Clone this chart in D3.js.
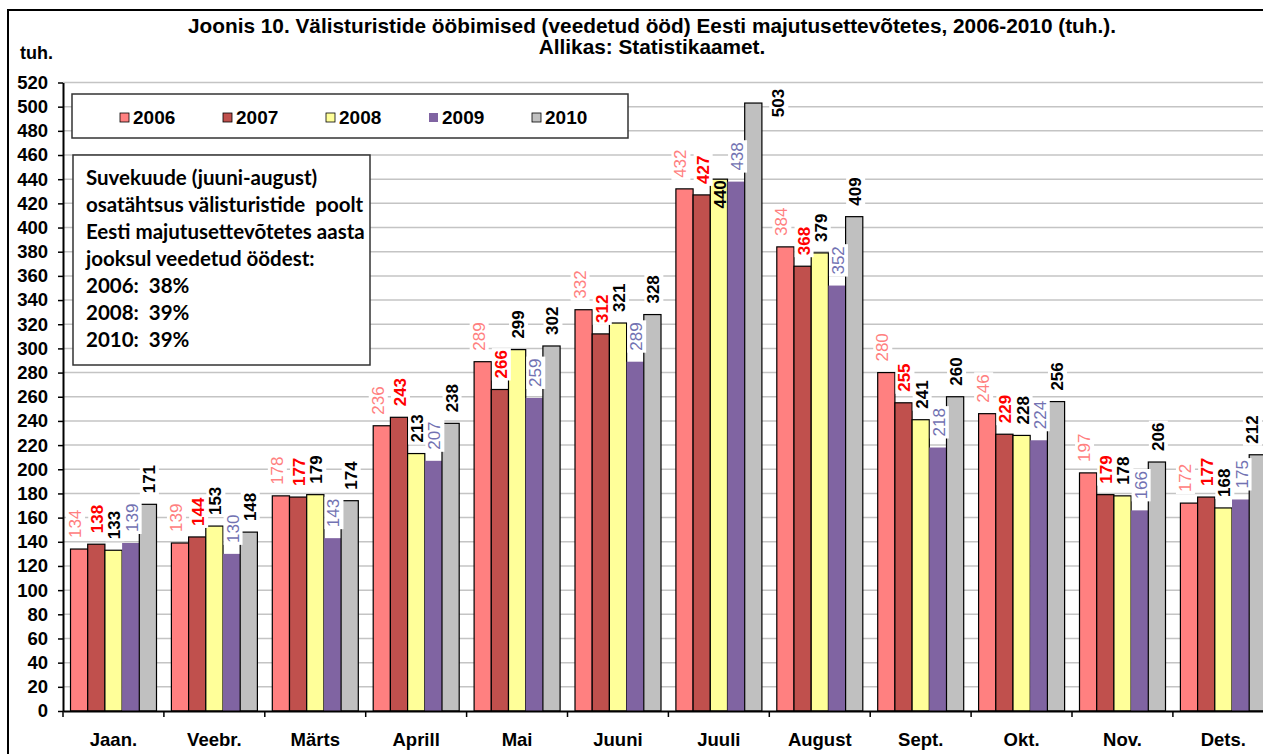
<!DOCTYPE html>
<html>
<head>
<meta charset="utf-8">
<script src="https://cdn.jsdelivr.net/npm/d3@7"></script>
<style>
  body { margin: 0; background: #fff; }
  svg { display: block; font-family: Arial, "Liberation Sans", sans-serif; }
</style>
</head>
<body>
<svg id="chart" width="1263" height="754"></svg>
<script>
// data
var months = ['Jaan.', 'Veebr.', 'Märts', 'Aprill', 'Mai', 'Juuni', 'Juuli', 'August', 'Sept.', 'Okt.', 'Nov.', 'Dets.'];
var years = ['2006', '2007', '2008', '2009', '2010'];
var v2006 = [134, 139, 178, 236, 289, 332, 432, 384, 280, 246, 197, 172];
var v2007 = [138, 144, 177, 243, 266, 312, 427, 368, 255, 229, 179, 177];
var v2008 = [133, 153, 179, 213, 299, 321, 440, 379, 241, 228, 178, 168];
var v2009 = [139, 130, 143, 207, 259, 289, 438, 352, 218, 224, 166, 175];
var v2010 = [171, 148, 174, 238, 302, 328, 503, 409, 260, 256, 206, 212];
var yTicks = [0, 20, 40, 60, 80, 100, 120, 140, 160, 180, 200, 220, 240, 260,
  280, 300, 320, 340, 360, 380, 400, 420, 440, 460, 480, 500, 520];
var noteLines = ['Suvekuude (juuni-august)', 'osatähtsus välisturistide  poolt',
  'Eesti majutusettevõtetes aasta', 'jooksul veedetud öödest:',
  '2006:  38%', '2008:  39%', '2010:  39%'];
var titleLines = ['Joonis 10. Välisturistide ööbimised (veedetud ööd) Eesti majutusettevõtetes, 2006-2010 (tuh.).',
  'Allikas: Statistikaamet.'];

var series = [v2006, v2007, v2008, v2009, v2010];
var fills = ['#ff8080', '#c0504d', '#ffff99', '#8064a2', '#c0c0c0'];
var labelColors = ['#ff8080', '#ff0000', '#000000', '#7272b2', '#000000'];
var labelWeights = ['normal', 'bold', 'bold', 'normal', 'bold'];
var insideLabels = ['Juuli|2008'];

var svg = d3.select('#chart');
var width = 1263;
var left = 63, bandStep = 100.9;
var plotRight = left + months.length * bandStep;

var x = d3.scaleBand().domain(months).range([left, plotRight]);
var xs = d3.scaleBand().domain(years).range([7.5, 93.5]);
var y = d3.scaleLinear().domain([0, 520]).range([711, 82.5]);

// outer frame
svg.append('rect')
  .attr('x', 8).attr('y', 10)
  .attr('width', 1300).attr('height', 800)
  .attr('fill', 'none')
  .attr('stroke', '#000')
  .attr('stroke-width', 2);

// title
svg.selectAll('.title')
  .data(titleLines)
  .enter()
  .append('text')
  .attr('class', 'title')
  .attr('x', 652)
  .attr('y', function(d, i) { return 33 + i * 21; })
  .attr('text-anchor', 'middle')
  .attr('font-size', '20.8px')
  .attr('font-weight', 'bold')
  .text(function(d) { return d; });

svg.append('text')
  .attr('x', 20).attr('y', 59)
  .attr('font-size', '18px')
  .attr('font-weight', 'bold')
  .text('tuh.');

// gridlines
svg.append('g')
  .selectAll('line')
  .data(yTicks.filter(function(d) { return d > 0; }))
  .enter()
  .append('line')
  .attr('x1', left).attr('x2', plotRight)
  .attr('y1', function(d) { return y(d); })
  .attr('y2', function(d) { return y(d); })
  .attr('stroke', '#c4c4c4')
  .attr('stroke-width', 1.5);

var flat = [];
months.forEach(function(m, i) {
  years.forEach(function(yr, j) {
    flat.push({month: m, year: yr, si: j, value: series[j][i]});
  });
});

// bars
svg.append('g')
  .selectAll('rect')
  .data(flat)
  .enter()
  .append('rect')
  .attr('x', function(d) { return x(d.month) + xs(d.year); })
  .attr('y', function(d) { return y(d.value); })
  .attr('width', xs.bandwidth())
  .attr('height', function(d) { return y(0) - y(d.value); })
  .attr('fill', function(d) { return fills[d.si]; })
  .attr('stroke', function(d) { return d.si === 3 ? 'none' : '#000'; })
  .attr('stroke-width', 1.2);

// value labels (rotated, white background)
var labels = svg.append('g');
flat.forEach(function(d) {
  var cx = x(d.month) + xs(d.year) + xs.bandwidth() / 2 + (d.si === 0 ? -4 : 1);
  cx = Math.min(cx, width - 11);
  var top = y(d.value);
  var inside = insideLabels.indexOf(d.month + '|' + d.year) >= 0;
  var g = labels.append('g');
  var t = g.append('text')
    .attr('dy', '0.35em')
    .attr('font-size', '17px')
    .attr('font-weight', labelWeights[d.si])
    .attr('fill', labelColors[d.si])
    .text(d.value);
  var len = t.node().getComputedTextLength();
  if (inside) {
    g.attr('transform', 'translate(' + cx + ',' + (top + 1) + ') rotate(-90)');
    t.attr('text-anchor', 'end');
  } else if (top - 11 - len < y(520)) {
    g.attr('transform', 'translate(' + (cx + 24) + ',' + top + ') rotate(-90)');
    t.attr('text-anchor', 'middle');
  } else {
    g.attr('transform', 'translate(' + cx + ',' + (top - 11) + ') rotate(-90)');
    t.attr('text-anchor', 'start');
  }
  if (!inside) {
    var bb = t.node().getBBox();
    g.insert('rect', 'text')
      .attr('x', bb.x - 2).attr('y', bb.y)
      .attr('width', bb.width + 4).attr('height', bb.height)
      .attr('fill', '#fff');
  }
});

// axes
var yAxis = svg.append('g')
  .attr('transform', 'translate(' + left + ',0)')
  .call(d3.axisLeft(y).tickValues(yTicks).tickSize(5).tickSizeOuter(0).tickPadding(10));
yAxis.select('.domain').attr('stroke', '#000').attr('stroke-width', 2);
yAxis.selectAll('.tick line').attr('stroke', '#000').attr('stroke-width', 1.5);
yAxis.selectAll('text')
  .attr('font-size', '18.5px')
  .attr('font-weight', 'bold')
  .attr('font-family', 'Arial, "Liberation Sans", sans-serif')
  .attr('fill', '#000');

var xAxis = svg.append('g')
  .attr('transform', 'translate(0,' + y(0) + ')')
  .call(d3.axisBottom(x).tickSize(0).tickSizeOuter(0).tickPadding(22));
xAxis.select('.domain').attr('stroke', '#000').attr('stroke-width', 2);
xAxis.selectAll('text')
  .attr('font-size', '18.5px')
  .attr('font-weight', 'bold')
  .attr('font-family', 'Arial, "Liberation Sans", sans-serif')
  .attr('fill', '#000');

// category boundary ticks
svg.append('g')
  .selectAll('line')
  .data(months)
  .enter()
  .append('line')
  .attr('x1', function(d) { return x(d); })
  .attr('x2', function(d) { return x(d); })
  .attr('y1', y(0)).attr('y2', y(0) + 6)
  .attr('stroke', '#000')
  .attr('stroke-width', 1.5);

// legend
svg.append('rect')
  .attr('x', 72).attr('y', 94)
  .attr('width', 556).attr('height', 44)
  .attr('fill', '#fff')
  .attr('stroke', '#333')
  .attr('stroke-width', 1.5);

var legend = svg.append('g')
  .selectAll('g')
  .data(years)
  .enter()
  .append('g')
  .attr('transform', function(d, i) { return 'translate(' + (120 + i * 103) + ',113)'; });
legend.append('rect')
  .attr('width', 9).attr('height', 9)
  .attr('fill', function(d, i) { return fills[i]; })
  .attr('stroke', function(d, i) { return i === 3 ? 'none' : '#000'; })
  .attr('stroke-width', 0.8);
legend.append('text')
  .attr('x', 13).attr('y', 11)
  .attr('font-size', '19px')
  .attr('font-weight', 'bold')
  .text(function(d) { return d; });

// note box
svg.append('rect')
  .attr('x', 73).attr('y', 155)
  .attr('width', 297).attr('height', 210)
  .attr('fill', '#fff')
  .attr('stroke', '#333')
  .attr('stroke-width', 1.5);

svg.append('g')
  .selectAll('text')
  .data(noteLines)
  .enter()
  .append('text')
  .attr('x', 86)
  .attr('y', function(d, i) { return 185 + i * 27; })
  .attr('font-family', 'Lato, "Open Sans", sans-serif')
  .attr('font-size', '20.5px')
  .attr('font-weight', 'bold')
  .style('white-space', 'pre')
  .text(function(d) { return d; });
</script>
</body>
</html>
